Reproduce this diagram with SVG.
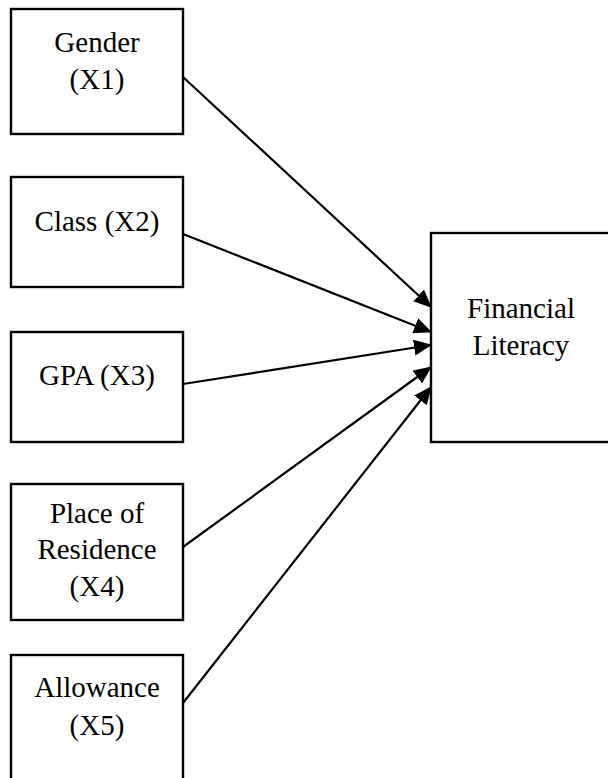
<svg xmlns="http://www.w3.org/2000/svg" width="608" height="778" viewBox="0 0 608 778">
<style>
.box{fill:#fff;stroke:#000;stroke-width:2.4}
.c{stroke:#000;stroke-width:2.2;fill:none;marker-end:url(#ah)}
.t{font-family:"Liberation Serif","Tinos","Times New Roman","DejaVu Serif",serif;font-size:29px;fill:#000;text-anchor:middle}
</style>
<defs>
<marker id="ah" markerUnits="userSpaceOnUse" markerWidth="18" markerHeight="16" refX="17" refY="8" orient="auto">
<path d="M0,0 L18,8 L0,16 Z" fill="#000"/>
</marker>
</defs>
<rect width="608" height="778" fill="#fff"/>
<g id="connectors">
<line class="c" x1="183" y1="77" x2="431" y2="307"/>
<line class="c" x1="183" y1="234" x2="431" y2="332"/>
<line class="c" x1="183" y1="384" x2="431" y2="345"/>
<line class="c" x1="183" y1="547" x2="431" y2="367"/>
<line class="c" x1="183" y1="703" x2="431" y2="387"/>
</g>
<g id="gender">
<rect class="box" x="11" y="9" width="172" height="125"/>
<text class="t" x="97" y="52">Gender</text>
<text class="t" x="97" y="89">(X1)</text>
</g>
<g id="class">
<rect class="box" x="11" y="177" width="172" height="110"/>
<text class="t" x="97" y="231">Class (X2)</text>
</g>
<g id="gpa">
<rect class="box" x="11" y="332" width="172" height="110"/>
<text class="t" x="97" y="385">GPA (X3)</text>
</g>
<g id="residence">
<rect class="box" x="11" y="484" width="172" height="136"/>
<text class="t" x="97" y="523">Place of</text>
<text class="t" x="97" y="559">Residence</text>
<text class="t" x="97" y="596">(X4)</text>
</g>
<g id="allowance">
<rect class="box" x="11" y="655" width="172" height="135"/>
<text class="t" x="97" y="697">Allowance</text>
<text class="t" x="97" y="735">(X5)</text>
</g>
<g id="financial">
<rect class="box" x="431" y="233" width="200" height="209"/>
<text class="t" x="521" y="318">Financial</text>
<text class="t" x="521" y="355">Literacy</text>
</g>
</svg>
